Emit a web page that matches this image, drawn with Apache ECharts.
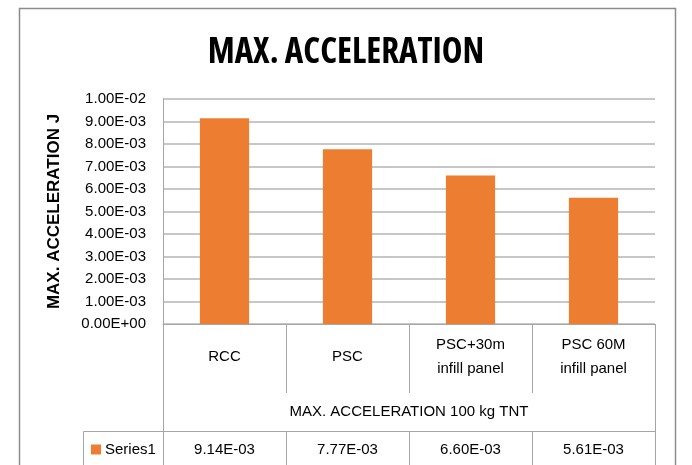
<!DOCTYPE html>
<html>
<head>
<meta charset="utf-8">
<script src="https://cdn.jsdelivr.net/npm/echarts@6/dist/echarts.min.js"></script>
<style>
  html, body { margin: 0; padding: 0; background: #fff; }
  #chart { width: 692px; height: 465px; }
</style>
</head>
<body>
<div id="chart"></div>
<script>
// Bar categories and measured peak accelerations
const categories = ['RCC', 'PSC', 'PSC+30m\ninfill panel', 'PSC 60M\ninfill panel'];
const seriesName = 'Series1';
const maxAcceleration = [9.14e-3, 7.77e-3, 6.60e-3, 5.61e-3];
const yTicks = { min: 0, max: 0.01, interval: 0.001 };

// Excel-style scientific notation: 9.14E-03
function fmtSci(v) {
  const parts = Number(v).toExponential(2).split('e');
  let exp = parseInt(parts[1], 10);
  const sign = exp < 0 ? '-' : '+';
  exp = Math.abs(exp);
  return parts[0] + 'E' + sign + (exp < 10 ? '0' + exp : '' + exp);
}

const tableLabels = maxAcceleration.map(fmtSci);

const FONT = '"Liberation Sans", Arial, sans-serif';
const TITLE_FONT = '"Open Sans", "Liberation Sans", sans-serif';
const GRID_COLOR = '#b4b4b4';
const TABLE_COLOR = '#a6a6a6';
const BAR_COLOR = '#ED7D31';

const chart = echarts.init(document.getElementById('chart'), null, { renderer: 'canvas' });

const gridLeft = 163, gridRight = 655, gridTop = 99, gridBottom = 324;

chart.setOption({
  animation: false,
  backgroundColor: '#ffffff',
  title: {
    text: 'MAX. ACCELERATION',
    left: 'center',
    top: 31,
    textStyle: {
      fontFamily: TITLE_FONT,
      // condensed width of the variable font, close to a narrow bold face
      fontStyle: 'condensed',
      fontWeight: 'bold',
      fontSize: 35,
      color: '#000'
    }
  },
  legend: {
    left: 86,
    top: 437,
    icon: 'rect',
    itemWidth: 10,
    itemHeight: 10,
    itemGap: 4,
    data: [seriesName],
    textStyle: { fontFamily: FONT, fontSize: 15, color: '#000', padding: [0, 0, 0, -1] }
  },
  grid: {
    left: gridLeft,
    right: 692 - gridRight,
    top: gridTop,
    bottom: 465 - gridBottom,
    containLabel: false
  },
  xAxis: [
    {
      // category row with its dividers
      type: 'category',
      data: categories,
      position: 'bottom',
      axisLine: { show: true, lineStyle: { color: TABLE_COLOR, width: 1 } },
      axisTick: { show: true, interval: 0, length: 69, lineStyle: { color: TABLE_COLOR } },
      axisLabel: {
        interval: 0, margin: 33, fontFamily: FONT, fontSize: 15, color: '#000',
        lineHeight: 24, verticalAlign: 'middle', align: 'center'
      },
      name: 'MAX. ACCELERATION 100 kg TNT',
      nameLocation: 'middle',
      nameGap: 88,
      nameTextStyle: { fontFamily: FONT, fontSize: 15, color: '#000', verticalAlign: 'middle' }
    },
    {
      // data table row with the values
      type: 'category',
      data: tableLabels,
      position: 'bottom',
      offset: 107,
      axisLine: { show: true, lineStyle: { color: TABLE_COLOR, width: 1 } },
      axisTick: { show: true, interval: 0, length: 40, lineStyle: { color: TABLE_COLOR } },
      axisLabel: {
        interval: 0, margin: 19, fontFamily: FONT, fontSize: 15, color: '#000',
        verticalAlign: 'middle', align: 'center'
      }
    }
  ],
  yAxis: {
    type: 'value',
    min: yTicks.min,
    max: yTicks.max,
    interval: yTicks.interval,
    axisLine: { show: true, lineStyle: { color: TABLE_COLOR, width: 1 } },
    axisTick: { show: false },
    splitLine: { show: true, lineStyle: { color: GRID_COLOR, width: 1.5 } },
    axisLabel: {
      margin: 17, fontFamily: FONT, fontSize: 15, color: '#000',
      formatter: fmtSci
    },
    name: 'MAX. ACCELERATION J',
    nameLocation: 'middle',
    nameGap: 100,
    nameRotate: 90,
    nameTextStyle: {
      fontFamily: FONT,
      fontWeight: 'bold', fontSize: 17, color: '#000'
    }
  },
  series: [
    {
      name: seriesName,
      type: 'bar',
      xAxisIndex: 0,
      data: maxAcceleration,
      barWidth: '40%',
      itemStyle: { color: BAR_COLOR }
    }
  ],
  graphic: [
    // outer chart frame
    {
      type: 'rect', silent: true, z: -1,
      shape: { x: 19.5, y: 8.5, width: 656, height: 480 },
      style: { fill: 'none', stroke: '#8c8c8c', lineWidth: 1.5 }
    },
    // data table frame: left and right edges
    {
      type: 'line', silent: true,
      shape: { x1: gridLeft + 0.5, y1: gridBottom, x2: gridLeft + 0.5, y2: 465 },
      style: { stroke: TABLE_COLOR, lineWidth: 1 }
    },
    {
      type: 'line', silent: true,
      shape: { x1: gridRight + 0.5, y1: gridBottom, x2: gridRight + 0.5, y2: 465 },
      style: { stroke: TABLE_COLOR, lineWidth: 1 }
    },
    // legend key cell
    {
      type: 'line', silent: true,
      shape: { x1: 83.5, y1: 431.5, x2: gridLeft, y2: 431.5 },
      style: { stroke: TABLE_COLOR, lineWidth: 1 }
    },
    {
      type: 'line', silent: true,
      shape: { x1: 83.5, y1: 431.5, x2: 83.5, y2: 465 },
      style: { stroke: TABLE_COLOR, lineWidth: 1 }
    }
  ]
});
</script>
</body>
</html>
